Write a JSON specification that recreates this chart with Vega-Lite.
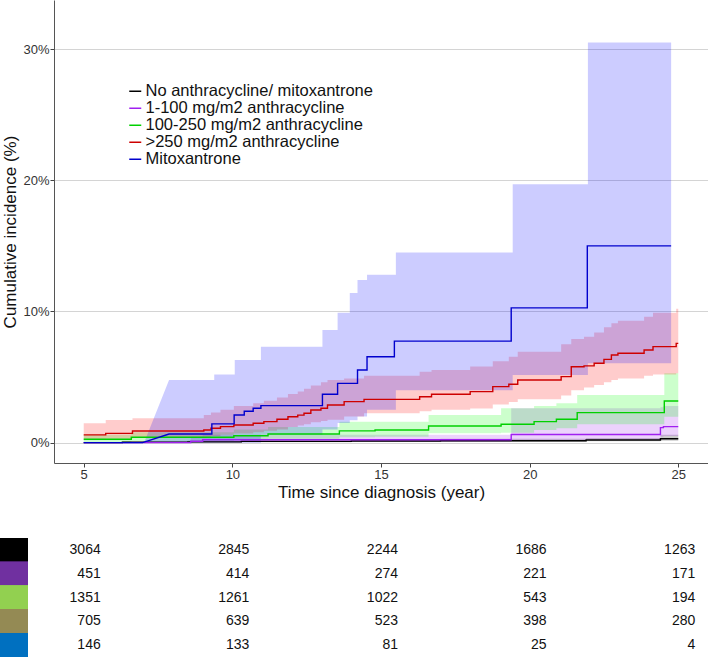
{
  "$schema": "https://vega.github.io/schema/vega-lite/v6.json",
  "padding": 0,
  "background": "white",
  "config": {"view": {"stroke": null}, "font": "Liberation Sans"},
  "spacing": 38,
  "datasets": {
    "steps": [
      {"g": "No anthracycline/ mitoxantrone", "t": 5, "est": 0, "lo": 0, "hi": 0},
      {"g": "No anthracycline/ mitoxantrone", "t": 6.3, "est": 0.03, "lo": 0, "hi": 0.1},
      {"g": "No anthracycline/ mitoxantrone", "t": 8.5, "est": 0.06, "lo": 0.01, "hi": 0.15},
      {"g": "No anthracycline/ mitoxantrone", "t": 10.3, "est": 0.1, "lo": 0.03, "hi": 0.22},
      {"g": "No anthracycline/ mitoxantrone", "t": 14, "est": 0.13, "lo": 0.05, "hi": 0.26},
      {"g": "No anthracycline/ mitoxantrone", "t": 17, "est": 0.15, "lo": 0.06, "hi": 0.3},
      {"g": "No anthracycline/ mitoxantrone", "t": 21.9, "est": 0.2, "lo": 0.1, "hi": 0.36},
      {"g": "No anthracycline/ mitoxantrone", "t": 24.4, "est": 0.3, "lo": 0.15, "hi": 0.6},
      {"g": "No anthracycline/ mitoxantrone", "t": 25, "est": 0.3, "lo": 0.15, "hi": 0.6},
      {"g": "1-100 mg/m2 anthracycline", "t": 5, "est": 0, "lo": 0, "hi": 0},
      {"g": "1-100 mg/m2 anthracycline", "t": 8.6, "est": 0.11, "lo": 0.02, "hi": 0.45},
      {"g": "1-100 mg/m2 anthracycline", "t": 9.0, "est": 0.22, "lo": 0.05, "hi": 0.6},
      {"g": "1-100 mg/m2 anthracycline", "t": 19.38, "est": 0.62, "lo": 0.2, "hi": 2.62},
      {"g": "1-100 mg/m2 anthracycline", "t": 24.4, "est": 1.15, "lo": 0.45, "hi": 2.7},
      {"g": "1-100 mg/m2 anthracycline", "t": 24.5, "est": 1.22, "lo": 0.5, "hi": 2.8},
      {"g": "1-100 mg/m2 anthracycline", "t": 25, "est": 1.22, "lo": 0.5, "hi": 2.8},
      {"g": "100-250 mg/m2 anthracycline", "t": 5, "est": 0.26, "lo": 0.05, "hi": 0.6},
      {"g": "100-250 mg/m2 anthracycline", "t": 6.6, "est": 0.41, "lo": 0.12, "hi": 0.8},
      {"g": "100-250 mg/m2 anthracycline", "t": 10.05, "est": 0.53, "lo": 0.2, "hi": 1.0},
      {"g": "100-250 mg/m2 anthracycline", "t": 11.2, "est": 0.66, "lo": 0.3, "hi": 1.2},
      {"g": "100-250 mg/m2 anthracycline", "t": 13.6, "est": 0.9, "lo": 0.42, "hi": 1.6},
      {"g": "100-250 mg/m2 anthracycline", "t": 14.8, "est": 0.97, "lo": 0.46, "hi": 1.6},
      {"g": "100-250 mg/m2 anthracycline", "t": 16.6, "est": 1.27, "lo": 0.71, "hi": 2.1},
      {"g": "100-250 mg/m2 anthracycline", "t": 19.04, "est": 1.4, "lo": 0.75, "hi": 2.62},
      {"g": "100-250 mg/m2 anthracycline", "t": 20.15, "est": 1.6, "lo": 0.97, "hi": 2.8},
      {"g": "100-250 mg/m2 anthracycline", "t": 20.9, "est": 1.78, "lo": 1.1, "hi": 3.0},
      {"g": "100-250 mg/m2 anthracycline", "t": 21.6, "est": 2.29, "lo": 1.4, "hi": 3.63},
      {"g": "100-250 mg/m2 anthracycline", "t": 24.53, "est": 3.18, "lo": 1.98, "hi": 5.29},
      {"g": "100-250 mg/m2 anthracycline", "t": 25, "est": 3.18, "lo": 1.98, "hi": 5.29},
      {"g": ">250 mg/m2 anthracycline", "t": 5, "est": 0.59, "lo": 0.2, "hi": 1.48},
      {"g": ">250 mg/m2 anthracycline", "t": 5.74, "est": 0.71, "lo": 0.3, "hi": 1.73},
      {"g": ">250 mg/m2 anthracycline", "t": 6.64, "est": 0.89, "lo": 0.4, "hi": 1.86},
      {"g": ">250 mg/m2 anthracycline", "t": 9.04, "est": 0.97, "lo": 0.45, "hi": 2.1},
      {"g": ">250 mg/m2 anthracycline", "t": 9.28, "est": 1.1, "lo": 0.5, "hi": 2.3},
      {"g": ">250 mg/m2 anthracycline", "t": 9.6, "est": 1.22, "lo": 0.6, "hi": 2.5},
      {"g": ">250 mg/m2 anthracycline", "t": 10.05, "est": 1.35, "lo": 0.7, "hi": 2.8},
      {"g": ">250 mg/m2 anthracycline", "t": 10.7, "est": 1.48, "lo": 0.8, "hi": 3.0},
      {"g": ">250 mg/m2 anthracycline", "t": 11.06, "est": 1.6, "lo": 0.9, "hi": 3.2},
      {"g": ">250 mg/m2 anthracycline", "t": 11.5, "est": 1.78, "lo": 1.0, "hi": 3.45},
      {"g": ">250 mg/m2 anthracycline", "t": 11.87, "est": 1.98, "lo": 1.2, "hi": 3.7},
      {"g": ">250 mg/m2 anthracycline", "t": 12.2, "est": 2.1, "lo": 1.3, "hi": 3.9},
      {"g": ">250 mg/m2 anthracycline", "t": 12.41, "est": 2.24, "lo": 1.4, "hi": 4.1},
      {"g": ">250 mg/m2 anthracycline", "t": 12.64, "est": 2.49, "lo": 1.55, "hi": 4.35},
      {"g": ">250 mg/m2 anthracycline", "t": 12.98, "est": 2.62, "lo": 1.65, "hi": 4.6},
      {"g": ">250 mg/m2 anthracycline", "t": 13.2, "est": 2.87, "lo": 1.75, "hi": 4.78},
      {"g": ">250 mg/m2 anthracycline", "t": 13.76, "est": 3.13, "lo": 2.0, "hi": 4.9},
      {"g": ">250 mg/m2 anthracycline", "t": 14.43, "est": 3.3, "lo": 2.24, "hi": 5.1},
      {"g": ">250 mg/m2 anthracycline", "t": 16.3, "est": 3.5, "lo": 2.4, "hi": 5.4},
      {"g": ">250 mg/m2 anthracycline", "t": 16.7, "est": 3.69, "lo": 2.5, "hi": 5.54},
      {"g": ">250 mg/m2 anthracycline", "t": 18.0, "est": 3.89, "lo": 2.6, "hi": 5.8},
      {"g": ">250 mg/m2 anthracycline", "t": 18.76, "est": 4.27, "lo": 2.9, "hi": 6.2},
      {"g": ">250 mg/m2 anthracycline", "t": 19.3, "est": 4.45, "lo": 3.1, "hi": 6.55},
      {"g": ">250 mg/m2 anthracycline", "t": 19.6, "est": 4.78, "lo": 3.3, "hi": 6.93},
      {"g": ">250 mg/m2 anthracycline", "t": 21.06, "est": 5.03, "lo": 3.6, "hi": 7.5},
      {"g": ">250 mg/m2 anthracycline", "t": 21.4, "est": 5.79, "lo": 4.0, "hi": 7.9},
      {"g": ">250 mg/m2 anthracycline", "t": 21.83, "est": 5.85, "lo": 4.2, "hi": 8.08},
      {"g": ">250 mg/m2 anthracycline", "t": 22.17, "est": 6.05, "lo": 4.4, "hi": 8.4},
      {"g": ">250 mg/m2 anthracycline", "t": 22.5, "est": 6.35, "lo": 4.6, "hi": 8.8},
      {"g": ">250 mg/m2 anthracycline", "t": 22.75, "est": 6.68, "lo": 4.78, "hi": 9.1},
      {"g": ">250 mg/m2 anthracycline", "t": 22.97, "est": 6.81, "lo": 4.9, "hi": 9.3},
      {"g": ">250 mg/m2 anthracycline", "t": 23.85, "est": 7.06, "lo": 5.1, "hi": 9.6},
      {"g": ">250 mg/m2 anthracycline", "t": 24.15, "est": 7.32, "lo": 5.2, "hi": 9.9},
      {"g": ">250 mg/m2 anthracycline", "t": 24.93, "est": 7.57, "lo": 5.3, "hi": 10.2},
      {"g": ">250 mg/m2 anthracycline", "t": 25, "est": 7.57, "lo": 5.3, "hi": 10.2}
    ],
    "blueband": [
      {"g": "Mitoxantrone", "t": 5, "lo": 0, "hi": 0},
      {"g": "Mitoxantrone", "t": 7.03, "lo": 0, "hi": 0},
      {"g": "Mitoxantrone", "t": 7.87, "lo": 0, "hi": 4.78},
      {"g": "Mitoxantrone", "t": 9.39, "lo": 0, "hi": 4.78},
      {"g": "Mitoxantrone", "t": 9.39, "lo": 0, "hi": 5.2},
      {"g": "Mitoxantrone", "t": 10.08, "lo": 0, "hi": 5.2},
      {"g": "Mitoxantrone", "t": 10.08, "lo": 0, "hi": 6.3},
      {"g": "Mitoxantrone", "t": 10.96, "lo": 0, "hi": 6.3},
      {"g": "Mitoxantrone", "t": 10.96, "lo": 0.6, "hi": 7.32},
      {"g": "Mitoxantrone", "t": 13.03, "lo": 0.6, "hi": 7.32},
      {"g": "Mitoxantrone", "t": 13.03, "lo": 1.0, "hi": 8.59},
      {"g": "Mitoxantrone", "t": 13.54, "lo": 1.0, "hi": 8.59},
      {"g": "Mitoxantrone", "t": 13.54, "lo": 1.5, "hi": 9.9},
      {"g": "Mitoxantrone", "t": 13.95, "lo": 1.5, "hi": 9.9},
      {"g": "Mitoxantrone", "t": 13.95, "lo": 1.7, "hi": 11.4},
      {"g": "Mitoxantrone", "t": 14.21, "lo": 1.7, "hi": 11.4},
      {"g": "Mitoxantrone", "t": 14.21, "lo": 2.0, "hi": 12.4},
      {"g": "Mitoxantrone", "t": 14.53, "lo": 2.0, "hi": 12.4},
      {"g": "Mitoxantrone", "t": 14.53, "lo": 2.5, "hi": 12.8},
      {"g": "Mitoxantrone", "t": 15.5, "lo": 2.5, "hi": 12.8},
      {"g": "Mitoxantrone", "t": 15.5, "lo": 4.0, "hi": 14.5},
      {"g": "Mitoxantrone", "t": 19.43, "lo": 4.0, "hi": 14.5},
      {"g": "Mitoxantrone", "t": 19.43, "lo": 5.16, "hi": 19.7},
      {"g": "Mitoxantrone", "t": 21.96, "lo": 5.16, "hi": 19.7},
      {"g": "Mitoxantrone", "t": 21.96, "lo": 6.05, "hi": 30.5},
      {"g": "Mitoxantrone", "t": 24.76, "lo": 6.05, "hi": 30.5}
    ],
    "blueline": [
      {"g": "Mitoxantrone", "t": 5, "est": 0},
      {"g": "Mitoxantrone", "t": 6.98, "est": 0},
      {"g": "Mitoxantrone", "t": 7.87, "est": 0.66},
      {"g": "Mitoxantrone", "t": 9.31, "est": 0.66},
      {"g": "Mitoxantrone", "t": 9.31, "est": 1.43},
      {"g": "Mitoxantrone", "t": 10.06, "est": 1.43},
      {"g": "Mitoxantrone", "t": 10.06, "est": 2.11},
      {"g": "Mitoxantrone", "t": 10.4, "est": 2.11},
      {"g": "Mitoxantrone", "t": 10.4, "est": 2.4},
      {"g": "Mitoxantrone", "t": 10.7, "est": 2.4},
      {"g": "Mitoxantrone", "t": 10.7, "est": 2.62},
      {"g": "Mitoxantrone", "t": 10.96, "est": 2.62},
      {"g": "Mitoxantrone", "t": 10.96, "est": 2.82},
      {"g": "Mitoxantrone", "t": 13.03, "est": 2.82},
      {"g": "Mitoxantrone", "t": 13.03, "est": 3.69},
      {"g": "Mitoxantrone", "t": 13.54, "est": 3.69},
      {"g": "Mitoxantrone", "t": 13.54, "est": 4.52},
      {"g": "Mitoxantrone", "t": 14.21, "est": 4.52},
      {"g": "Mitoxantrone", "t": 14.21, "est": 5.54},
      {"g": "Mitoxantrone", "t": 14.53, "est": 5.54},
      {"g": "Mitoxantrone", "t": 14.53, "est": 6.55},
      {"g": "Mitoxantrone", "t": 15.45, "est": 6.55},
      {"g": "Mitoxantrone", "t": 15.45, "est": 7.74},
      {"g": "Mitoxantrone", "t": 19.38, "est": 7.74},
      {"g": "Mitoxantrone", "t": 19.38, "est": 10.27},
      {"g": "Mitoxantrone", "t": 21.94, "est": 10.27},
      {"g": "Mitoxantrone", "t": 21.94, "est": 15.0},
      {"g": "Mitoxantrone", "t": 24.76, "est": 15.0}
    ],
    "risk": [
      {"g": "No anthracycline/ mitoxantrone", "t": 5, "n": 3064},
      {"g": "No anthracycline/ mitoxantrone", "t": 10, "n": 2845},
      {"g": "No anthracycline/ mitoxantrone", "t": 15, "n": 2244},
      {"g": "No anthracycline/ mitoxantrone", "t": 20, "n": 1686},
      {"g": "No anthracycline/ mitoxantrone", "t": 25, "n": 1263},
      {"g": "1-100 mg/m2 anthracycline", "t": 5, "n": 451},
      {"g": "1-100 mg/m2 anthracycline", "t": 10, "n": 414},
      {"g": "1-100 mg/m2 anthracycline", "t": 15, "n": 274},
      {"g": "1-100 mg/m2 anthracycline", "t": 20, "n": 221},
      {"g": "1-100 mg/m2 anthracycline", "t": 25, "n": 171},
      {"g": "100-250 mg/m2 anthracycline", "t": 5, "n": 1351},
      {"g": "100-250 mg/m2 anthracycline", "t": 10, "n": 1261},
      {"g": "100-250 mg/m2 anthracycline", "t": 15, "n": 1022},
      {"g": "100-250 mg/m2 anthracycline", "t": 20, "n": 543},
      {"g": "100-250 mg/m2 anthracycline", "t": 25, "n": 194},
      {"g": ">250 mg/m2 anthracycline", "t": 5, "n": 705},
      {"g": ">250 mg/m2 anthracycline", "t": 10, "n": 639},
      {"g": ">250 mg/m2 anthracycline", "t": 15, "n": 523},
      {"g": ">250 mg/m2 anthracycline", "t": 20, "n": 398},
      {"g": ">250 mg/m2 anthracycline", "t": 25, "n": 280},
      {"g": "Mitoxantrone", "t": 5, "n": 146},
      {"g": "Mitoxantrone", "t": 10, "n": 133},
      {"g": "Mitoxantrone", "t": 15, "n": 81},
      {"g": "Mitoxantrone", "t": 20, "n": 25},
      {"g": "Mitoxantrone", "t": 25, "n": 4}
    ]
  },
  "resolve": {"scale": {"x": "independent", "y": "independent", "color": "independent", "fill": "independent"}},
  "vconcat": [
    {
      "width": 654,
      "height": 463,
      "encoding": {
        "x": {"field": "t", "type": "quantitative", "scale": {"domain": [4, 26], "nice": false, "zero": false},
          "axis": {"values": [5, 10, 15, 20, 25], "title": "Time since diagnosis (year)", "grid": false, "tickColor": "#444", "tickSize": 4, "domainColor": "#555", "labelFontSize": 13, "labelColor": "#333", "labelPadding": 1, "titleFontSize": 17, "titleFontWeight": "normal", "titleColor": "#111", "titlePadding": 3, "labelFlush": false}}
      },
      "layer": [
        {
          "data": {"name": "steps"},
          "mark": {"type": "area", "interpolate": "step-after", "fillOpacity": 0.2},
          "encoding": {
            "y": {"field": "lo", "type": "quantitative", "scale": {"domain": [-1.55, 33.74], "nice": false, "zero": false},
              "axis": {"values": [0, 10, 20, 30], "labelExpr": "datum.value + '%'", "title": "Cumulative incidence (%)", "grid": true, "gridColor": "#d4d4d4", "tickColor": "#444", "tickSize": 4, "domainColor": "#555", "labelFontSize": 13, "labelColor": "#333", "labelPadding": 1, "titleFontSize": 17, "titleFontWeight": "normal", "titleColor": "#111", "titlePadding": 3}},
            "y2": {"field": "hi"},
            "fill": {"field": "g", "type": "nominal", "scale": {"domain": ["Mitoxantrone", ">250 mg/m2 anthracycline", "100-250 mg/m2 anthracycline", "1-100 mg/m2 anthracycline", "No anthracycline/ mitoxantrone"], "range": ["#0000FF", "#FF0000", "#00FF00", "#A020F0", "#000000"]}, "legend": null}
          }
        },
        {
          "data": {"name": "blueband"},
          "mark": {"type": "area", "interpolate": "linear", "fillOpacity": 0.2},
          "encoding": {
            "y": {"field": "lo", "type": "quantitative"},
            "y2": {"field": "hi"},
            "fill": {"field": "g", "type": "nominal", "legend": null}
          }
        },
        {
          "data": {"name": "steps"},
          "mark": {"type": "line", "interpolate": "step-after", "strokeWidth": 1.4},
          "encoding": {
            "y": {"field": "est", "type": "quantitative"},
            "color": {"field": "g", "type": "nominal", "scale": {"domain": ["No anthracycline/ mitoxantrone", "1-100 mg/m2 anthracycline", "100-250 mg/m2 anthracycline", ">250 mg/m2 anthracycline", "Mitoxantrone"], "range": ["#000000", "#A020F0", "#00D000", "#CD0000", "#0000CD"]},
              "legend": {"orient": "none", "legendX": 73, "legendY": 83, "title": null, "symbolType": "stroke", "symbolSize": 144, "symbolStrokeWidth": 1.5, "labelFontSize": 16.5, "labelColor": "#111", "labelOffset": 2, "rowPadding": 0, "padding": 0, "labelFont": "Liberation Sans", "labelLimit": 400}}
          }
        },
        {
          "data": {"name": "blueline"},
          "mark": {"type": "line", "interpolate": "linear", "strokeWidth": 1.4},
          "encoding": {
            "y": {"field": "est", "type": "quantitative"},
            "color": {"field": "g", "type": "nominal"}
          }
        }
      ]
    },
    {
      "width": 654,
      "height": 119,
      "data": {"name": "risk"},
      "layer": [
        {
          "mark": {"type": "rect"},
          "encoding": {
            "x": {"datum": 2.1835, "type": "quantitative", "scale": {"domain": [4, 26], "nice": false, "zero": false}, "axis": null},
            "x2": {"datum": 3.1254},
            "y": {"field": "g", "type": "nominal", "sort": null, "scale": {"domain": ["No anthracycline/ mitoxantrone", "1-100 mg/m2 anthracycline", "100-250 mg/m2 anthracycline", ">250 mg/m2 anthracycline", "Mitoxantrone"], "paddingInner": 0, "paddingOuter": 0}, "axis": null},
            "color": {"field": "g", "type": "nominal", "scale": {"domain": ["No anthracycline/ mitoxantrone", "1-100 mg/m2 anthracycline", "100-250 mg/m2 anthracycline", ">250 mg/m2 anthracycline", "Mitoxantrone"], "range": ["#000000", "#7030A0", "#92D050", "#948A54", "#0070C0"]}, "legend": null}
          }
        },
        {
          "mark": {"type": "text", "align": "right", "baseline": "middle", "dx": 17, "fontSize": 14, "font": "Liberation Sans", "color": "#111"},
          "encoding": {
            "x": {"field": "t", "type": "quantitative"},
            "y": {"field": "g", "type": "nominal", "sort": null},
            "text": {"field": "n", "type": "quantitative"}
          }
        }
      ]
    }
  ]
}
